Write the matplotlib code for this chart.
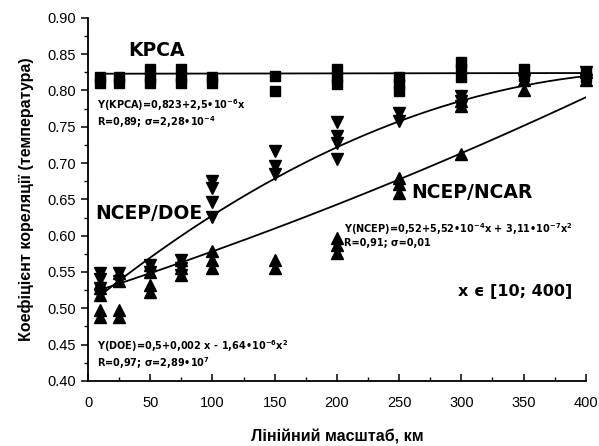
import numpy as np
import matplotlib
matplotlib.use("Agg")
import matplotlib.pyplot as plt
from matplotlib.ticker import MultipleLocator

plt.rcParams['font.family'] = ['Liberation Sans', 'DejaVu Sans']
plt.rcParams['mathtext.fontset'] = 'custom'
plt.rcParams['mathtext.rm'] = 'DejaVu Sans:bold'
plt.rcParams['mathtext.default'] = 'rm'

# KPCA (squares)
kpca_x = [10, 10, 25, 25, 50, 50, 50, 75, 75, 75, 100, 100, 150, 150,
          200, 200, 200, 250, 250, 250, 300, 300, 300, 350, 350, 400, 400]
kpca_y = [0.818, 0.810, 0.818, 0.810, 0.829, 0.819, 0.810, 0.829, 0.819, 0.810,
          0.818, 0.810, 0.820, 0.799, 0.829, 0.819, 0.809, 0.819, 0.809, 0.799,
          0.839, 0.829, 0.819, 0.829, 0.820, 0.825, 0.818]

# NCEP/DOE (down triangles)
doe_x = [10, 10, 10, 10, 25, 25, 50, 50, 75, 75, 75, 100, 100, 100, 100,
         150, 150, 150, 200, 200, 200, 200, 250, 250, 300, 300, 300, 350, 400, 400]
doe_y = [0.548, 0.540, 0.528, 0.518, 0.548, 0.538, 0.560, 0.550, 0.567, 0.556, 0.546,
         0.675, 0.666, 0.646, 0.626, 0.717, 0.696, 0.685, 0.757, 0.737, 0.728, 0.706,
         0.769, 0.758, 0.792, 0.785, 0.778, 0.815, 0.825, 0.815]

# NCEP/NCAR (up triangles)
ncar_x = [10, 10, 10, 10, 10, 25, 25, 25, 25, 50, 50, 50, 50, 75, 75, 75,
          100, 100, 100, 150, 150, 200, 200, 200, 250, 250, 250, 300, 300, 300,
          350, 350, 400, 400]
ncar_y = [0.535, 0.528, 0.518, 0.498, 0.488, 0.548, 0.538, 0.498, 0.488,
          0.560, 0.550, 0.532, 0.522, 0.567, 0.556, 0.546,
          0.579, 0.567, 0.556, 0.566, 0.556, 0.597, 0.587, 0.576,
          0.680, 0.671, 0.659, 0.785, 0.778, 0.713, 0.815, 0.800, 0.825, 0.815]

# fitted curves (polynomial coefficients, highest order first)
kpca_fit = [2.5e-6, 0.823]
doe_fit = [-1.493e-6, 0.001386, 0.5043]
ncar_fit = [3.11e-7, 5.52e-4, 0.52]
fit_range = [10, 400]

fig = plt.figure(figsize=(5.99, 4.46), dpi=100)
ax = fig.add_axes([0.147, 0.146, 0.831, 0.814])

xf = np.linspace(fit_range[0], fit_range[1], 200)
for coefs in (kpca_fit, doe_fit, ncar_fit):
    ax.plot(xf, np.polyval(coefs, xf), color='black', lw=1.3, zorder=2)

ms = 8.3
ax.plot(kpca_x, kpca_y, ls='none', marker='s', ms=7.6, color='black', zorder=3, clip_on=False)
ax.plot(doe_x, doe_y, ls='none', marker='v', ms=ms, color='black', zorder=3, clip_on=False)
ax.plot(ncar_x, ncar_y, ls='none', marker='^', ms=ms, color='black', zorder=3, clip_on=False)

ax.set_xlim(0, 400)
ax.set_ylim(0.40, 0.90)
ax.xaxis.set_major_locator(MultipleLocator(50))
ax.xaxis.set_minor_locator(MultipleLocator(25))
ax.yaxis.set_major_locator(MultipleLocator(0.05))
ax.yaxis.set_minor_locator(MultipleLocator(0.025))
ax.yaxis.set_major_formatter(matplotlib.ticker.FormatStrFormatter('%.2f'))
for s in ('top', 'right'):
    ax.spines[s].set_visible(False)
for s in ('left', 'bottom'):
    ax.spines[s].set_linewidth(1.3)
ax.tick_params(axis='x', which='major', direction='in', length=5, width=1.1, labelsize=10.5, pad=11)
ax.tick_params(axis='x', which='minor', direction='in', length=3, width=1.0)
ax.tick_params(axis='y', which='major', direction='out', length=5, width=1.1, labelsize=10.5)
ax.tick_params(axis='y', which='minor', direction='out', length=3, width=1.0)

ax.set_xlabel('Лінійний масштаб, км', fontsize=11.5, fontweight='bold', labelpad=14)
ax.set_ylabel('Коефіцієнт кореляції (температура)', fontsize=11.5, fontweight='bold', labelpad=10)

tf = dict(family='DejaVu Sans', fontweight='bold', color='black')
ax.text(32, 0.855, 'KPCA', fontsize=13.5, va='center', ha='left', **tf)
ax.text(7, 0.768, 'Y(KPCA)=0,823+2,5•10$^{-6}$x\nR=0,89; σ=2,28•10$^{-4}$',
        fontsize=7, va='center', ha='left', linespacing=1.1, **tf)
ax.text(6, 0.631, 'NCEP/DOE', fontsize=13.5, va='center', ha='left', **tf)
ax.text(260, 0.659, 'NCEP/NCAR', fontsize=13.5, va='center', ha='left', **tf)
ax.text(206, 0.602, 'Y(NCEP)=0,52+5,52•10$^{-4}$x + 3,11•10$^{-7}$x$^{2}$\nR=0,91; σ=0,01',
        fontsize=7, va='center', ha='left', linespacing=1.1, **tf)
ax.text(297, 0.523, 'x ϵ [10; 400]', fontsize=11.5, va='center', ha='left', **tf)
ax.text(7, 0.436, 'Y(DOE)=0,5+0,002 x - 1,64•10$^{-6}$x$^{2}$\nR=0,97; σ=2,89•10$^{7}$',
        fontsize=7, va='center', ha='left', linespacing=1.1, **tf)

fig.savefig('out.png', dpi=100)
